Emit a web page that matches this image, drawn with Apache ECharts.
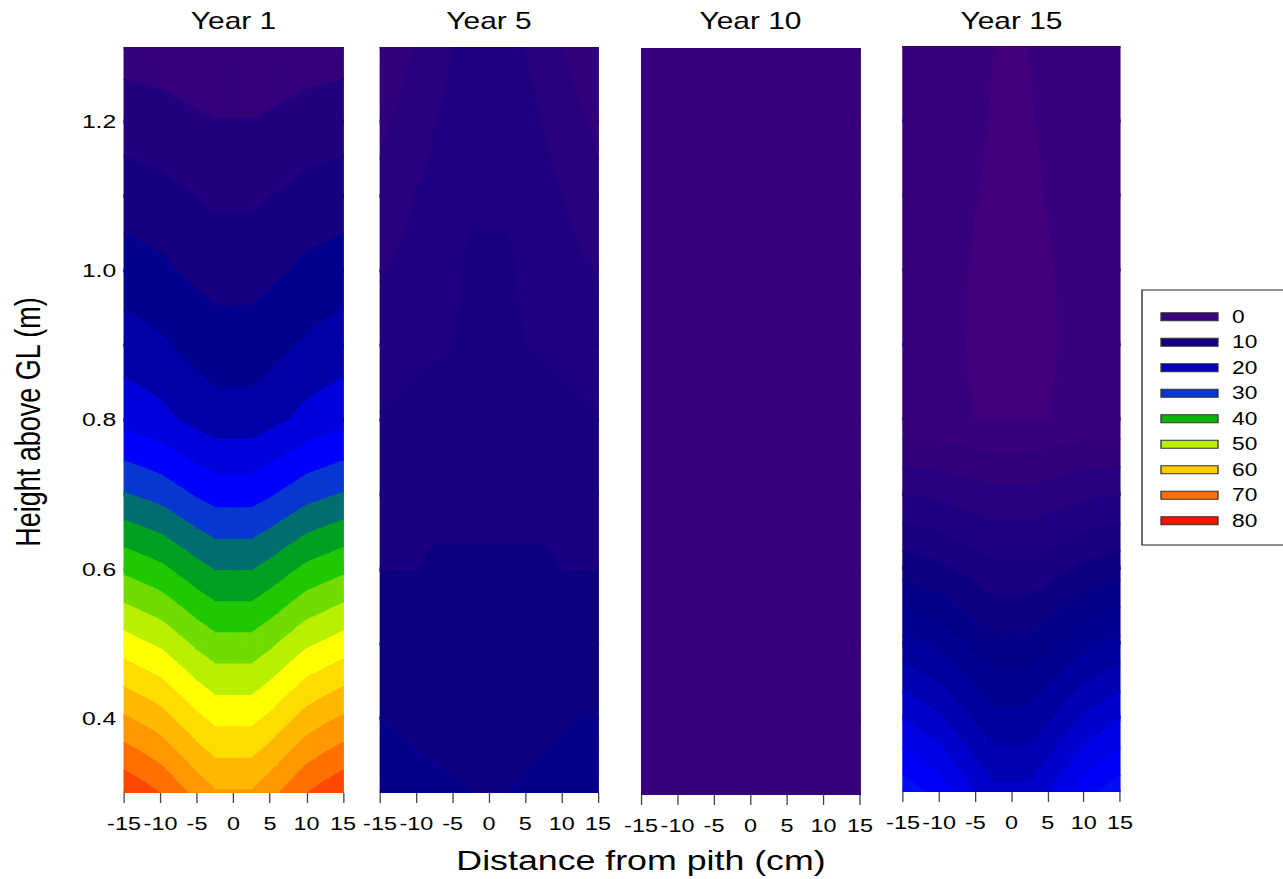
<!DOCTYPE html>
<html>
<head>
<meta charset="utf-8">
<script src="https://cdn.jsdelivr.net/npm/echarts@6/dist/echarts.min.js"></script>
<style>
  html, body { margin: 0; background: #fff; overflow: hidden; }
  /* the original figure is stretched sideways, so the whole chart is drawn narrow and widened */
  #chart { width: 987px; height: 879px; transform: scaleX(1.3); transform-origin: 0 0; }
</style>
</head>
<body>
<div id="chart"></div>
<script>
const SX = 1.3;

// grid of the measurements
const xs = [-15, -12.5, -10, -7.5, -5, -2.5, 0, 2.5, 5, 7.5, 10, 12.5, 15];
const heights = [1.3, 1.2, 1.1, 1.0, 0.9, 0.8, 0.7, 0.6, 0.5, 0.4, 0.3];

// values, one row per height (top to bottom), one column per distance
const year1 = [
  [2.3, 2.1, 1.9, 1.6, 1.3, 1.0, 1.0, 1.0, 1.3, 1.6, 1.9, 2.1, 2.3],
  [6.2, 5.9, 5.6, 5.0, 4.5, 4.1, 4.1, 4.1, 4.5, 5.0, 5.6, 5.9, 6.2],
  [10.1, 9.7, 9.3, 8.6, 7.9, 7.3, 7.3, 7.3, 7.9, 8.6, 9.3, 9.7, 10.1],
  [13.9, 13.4, 12.9, 11.9, 11.2, 10.5, 10.5, 10.5, 11.2, 11.9, 12.9, 13.4, 13.9],
  [17.9, 17.3, 16.6, 15.6, 14.5, 13.7, 13.7, 13.7, 14.5, 15.6, 16.6, 17.3, 17.9],
  [22.7, 22.0, 21.2, 19.9, 18.8, 17.8, 17.8, 17.8, 18.8, 19.9, 21.2, 22.0, 22.7],
  [32.3, 31.4, 30.5, 29.0, 27.5, 26.3, 26.3, 26.3, 27.5, 29.0, 30.5, 31.4, 32.3],
  [43.1, 42.0, 40.9, 39.1, 37.3, 35.8, 35.8, 35.8, 37.3, 39.1, 40.9, 42.0, 43.1],
  [53.8, 52.5, 51.3, 49.2, 47.1, 45.4, 45.4, 45.4, 47.1, 49.2, 51.3, 52.5, 53.8],
  [64.5, 63.1, 61.6, 59.2, 56.8, 54.9, 54.9, 54.9, 56.8, 59.2, 61.6, 63.1, 64.5],
  [75.3, 73.7, 71.9, 69.3, 66.6, 64.4, 64.4, 64.4, 66.6, 69.3, 71.9, 73.7, 75.3]
];
const year5 = [
  [2.5, 3.2, 4.05, 5.0, 5.95, 7.0, 7.5, 7.0, 5.95, 5.0, 4.05, 3.2, 2.5],
  [3.6, 4.2, 5.0, 5.9, 6.6, 7.4, 7.7, 7.4, 6.6, 5.9, 5.0, 4.2, 3.6],
  [4.4, 5.3, 6.05, 6.5, 7.1, 7.6, 7.6, 7.6, 7.1, 6.5, 6.05, 5.3, 4.4],
  [5.8, 6.3, 6.6, 7.0, 7.5, 8.4, 8.4, 8.4, 7.5, 7.0, 6.6, 6.3, 5.8],
  [7.2, 7.36, 7.57, 7.78, 7.98, 8.5, 8.6, 8.5, 7.98, 7.78, 7.57, 7.36, 7.2],
  [8.1, 8.3, 8.5, 8.7, 8.9, 9.0, 9.0, 9.0, 8.9, 8.7, 8.5, 8.3, 8.1],
  [9.2, 9.2, 9.2, 9.4, 9.4, 9.4, 9.4, 9.4, 9.4, 9.4, 9.2, 9.2, 9.2],
  [9.98, 9.98, 9.98, 10.3, 10.3, 10.3, 10.3, 10.3, 10.3, 10.3, 9.98, 9.98, 9.98],
  [11.0, 10.9, 10.8, 10.8, 10.7, 10.6, 10.6, 10.6, 10.7, 10.8, 10.8, 10.9, 11.0],
  [12.02, 11.7, 11.4, 11.1, 10.8, 10.5, 10.4, 10.5, 11.1, 11.4, 11.7, 12.02, 12.02],
  [13.5, 13.2, 12.9, 12.6, 12.3, 12.05, 11.8, 12.05, 12.3, 12.6, 12.9, 13.2, 13.2]
];
const year10 = [
  [1, 1, 1, 1, 1, 1, 1, 1, 1, 1, 1, 1, 1],
  [1, 1, 1, 1, 1, 1, 1, 1, 1, 1, 1, 1, 1],
  [1, 1, 1, 1, 1, 1, 1, 1, 1, 1, 1, 1, 1],
  [1, 1, 1, 1, 1, 1, 1, 1, 1, 1, 1, 1, 1],
  [1, 1, 1, 1, 1, 1, 1, 1, 1, 1, 1, 1, 1],
  [1, 1, 1, 1, 1, 1, 1, 1, 1, 1, 1, 1, 1],
  [1, 1, 1, 1, 1, 1, 1, 1, 1, 1, 1, 1, 1],
  [1, 1, 1, 1, 1, 1, 1, 1, 1, 1, 1, 1, 1],
  [1, 1, 1, 1, 1, 1, 1, 1, 1, 1, 1, 1, 1],
  [1, 1, 1, 1, 1, 1, 1, 1, 1, 1, 1, 1, 1],
  [1, 1, 1, 1, 1, 1, 1, 1, 1, 1, 1, 1, 1]
];
const year15 = [
  [1.0, 1.0, 1.0, 0.9, 0.6, 0.03, -0.5, 0.03, 0.6, 0.9, 1.0, 1.0, 1.0],
  [1.0, 1.0, 1.0, 0.8, 0.4, -0.2, -0.6, -0.2, 0.4, 0.8, 1.0, 1.0, 1.0],
  [1.0, 1.0, 0.95, 0.6, 0.1, -0.5, -0.7, -0.5, 0.1, 0.6, 0.95, 1.0, 1.0],
  [1.0, 1.0, 0.9, 0.4, -0.3, -0.7, -0.8, -0.7, -0.3, 0.4, 0.9, 1.0, 1.0],
  [1.0, 1.0, 0.8, 0.3, -0.4, -0.7, -0.8, -0.7, -0.4, 0.3, 0.8, 1.0, 1.0],
  [0.56, 0.55, 0.5, 0.4, -0.05, -0.05, -0.05, -0.05, -0.05, 0.4, 0.5, 0.55, 0.56],
  [5.9, 5.7, 5.5, 5.1, 4.8, 4.5, 4.5, 4.5, 4.8, 5.1, 5.5, 5.7, 5.9],
  [11.2, 10.8, 10.4, 9.7, 9.0, 8.5, 8.5, 8.5, 9.0, 9.7, 10.4, 10.8, 11.2],
  [16.5, 15.9, 15.3, 14.3, 13.3, 12.5, 12.5, 12.5, 13.3, 14.3, 15.3, 15.9, 16.5],
  [21.8, 21.0, 20.2, 18.9, 17.6, 16.5, 16.5, 16.5, 17.6, 18.9, 20.2, 21.0, 21.8],
  [27.2, 26.2, 25.2, 23.5, 21.8, 20.5, 20.5, 20.5, 21.8, 23.5, 25.2, 26.2, 27.2]
];

// contour levels of each panel
const levels1 = [0, 4, 8, 12, 16, 20, 24, 28, 32, 36, 40, 44, 48, 52, 56, 60, 64, 68, 72, 76, 80];
const levels5 = [0, 2, 4, 6, 8, 10, 12, 14];
const levels10 = [0, 2];
const levels15 = [-2, 0, 2, 4, 6, 8, 10, 12, 14, 16, 18, 20, 22, 24, 26, 28];

const titles = ['Year 1', 'Year 5', 'Year 10', 'Year 15'];
const yTickValues = [0.4, 0.6, 0.8, 1.0, 1.2];
const legendValues = [0, 10, 20, 30, 40, 50, 60, 70, 80];

// colour scale shared by all panels
const colorStops = [
  [-2, '#48007a'], [0, '#3c0080'], [2, '#35007b'], [6, '#230080'], [10, '#170080'],
  [11, '#0c0080'], [13, '#04008a'], [16, '#000096'], [18, '#0000a8'], [20, '#0000c0'],
  [22, '#0000dc'], [26, '#0000ff'], [30, '#0838d0'], [34, '#006e70'], [38, '#00a020'],
  [42, '#20c800'], [46, '#70dc00'], [50, '#b8f000'], [54, '#ffff00'], [58, '#ffdc00'],
  [62, '#ffb800'], [66, '#ff9800'], [70, '#ff7000'], [74, '#ff4800'], [78, '#ff2000'],
  [82, '#ff0000']
];

const panels = [
  { left: 124, right: 343, top: 47, bottom: 793, data: year1, levels: levels1 },
  { left: 380, right: 598, top: 47, bottom: 793, data: year5, levels: levels5 },
  { left: 641, right: 860, top: 48, bottom: 795, data: year10, levels: levels10 },
  { left: 903, right: 1120, top: 46, bottom: 792, data: year15, levels: levels15 }
];

const FONT = '"Liberation Sans", Arial, sans-serif';

function hex(c) {
  return [parseInt(c.slice(1, 3), 16), parseInt(c.slice(3, 5), 16), parseInt(c.slice(5, 7), 16)];
}

function colorAt(v) {
  if (v <= colorStops[0][0]) return colorStops[0][1];
  for (let k = 1; k < colorStops.length; k++) {
    const [v1, c1] = colorStops[k];
    if (v <= v1) {
      const [v0, c0] = colorStops[k - 1];
      const t = (v - v0) / (v1 - v0);
      const a = hex(c0), b = hex(c1);
      const m = a.map((x, n) => Math.round(x + t * (b[n] - x)));
      return 'rgb(' + m.join(',') + ')';
    }
  }
  return colorStops[colorStops.length - 1][1];
}

// keep the part of a polygon where sign*(value - lv) >= 0
function clip(poly, lv, sign) {
  const out = [];
  for (let n = 0; n < poly.length; n++) {
    const a = poly[n], b = poly[(n + 1) % poly.length];
    const da = sign * (a[2] - lv), db = sign * (b[2] - lv);
    if (da >= 0) out.push(a);
    if (da * db < 0) {
      const t = da / (da - db);
      out.push([a[0] + t * (b[0] - a[0]), a[1] + t * (b[1] - a[1]), lv]);
    }
  }
  return out;
}

function contourItem(grid, levels) {
  return function (params, api) {
    const i = api.value(2), j = api.value(3);
    const c = [
      [xs[i], heights[j], grid[j][i]],
      [xs[i + 1], heights[j], grid[j][i + 1]],
      [xs[i + 1], heights[j + 1], grid[j + 1][i + 1]],
      [xs[i], heights[j + 1], grid[j + 1][i]]
    ];
    const mid = [
      (xs[i] + xs[i + 1]) / 2,
      (heights[j] + heights[j + 1]) / 2,
      (c[0][2] + c[1][2] + c[2][2] + c[3][2]) / 4
    ];
    const children = [];
    for (let t = 0; t < 4; t++) {
      const tri = [c[t], c[(t + 1) % 4], mid];
      for (let k = 0; k < levels.length - 1; k++) {
        const poly = clip(clip(tri, levels[k], 1), levels[k + 1], -1);
        if (poly.length < 3) continue;
        const col = colorAt((levels[k] + levels[k + 1]) / 2);
        children.push({
          type: 'polygon',
          silent: true,
          shape: { points: poly.map(p => api.coord([p[0], p[1]])) },
          style: { fill: col, stroke: col, lineWidth: 1.4, lineJoin: 'round' }
        });
      }
    }
    return { type: 'group', children };
  };
}

const cells = [];
for (let j = 0; j < heights.length - 1; j++) {
  for (let i = 0; i < xs.length - 1; i++) {
    cells.push([(xs[i] + xs[i + 1]) / 2, (heights[j] + heights[j + 1]) / 2, i, j]);
  }
}

const grids = [], xAxes = [], yAxes = [], series = [], graphics = [];

panels.forEach((p, n) => {
  grids.push({
    left: p.left / SX, width: (p.right - p.left) / SX,
    top: p.top, height: p.bottom - p.top
  });
  xAxes.push({
    gridIndex: n, type: 'value', min: -15, max: 15, interval: 5,
    axisLine: { show: false },
    axisTick: { show: true, length: 10, lineStyle: { color: '#444', width: 1 } },
    axisLabel: { fontSize: 18, color: '#000', fontFamily: FONT, margin: 22 },
    splitLine: { show: false }
  });
  yAxes.push({
    gridIndex: n, type: 'value', min: 0.3, max: 1.3,
    axisLine: { show: false },
    axisTick: { show: true, length: n === 0 ? 5.5 : 2.5, customValues: yTickValues,
      lineStyle: { color: '#444', width: 1 } },
    axisLabel: { show: n === 0, customValues: yTickValues, formatter: v => v.toFixed(1),
      fontSize: 19, color: '#000', fontFamily: FONT, margin: 6 },
    splitLine: { show: false }
  });
  series.push({
    type: 'custom', xAxisIndex: n, yAxisIndex: n,
    renderItem: contourItem(p.data, p.levels),
    data: cells, silent: true, animation: false, clip: true
  });
  graphics.push({
    type: 'text', x: (p.left + p.right) / 2 / SX, y: 21,
    style: { text: titles[n], fill: '#000', font: '23px ' + FONT, align: 'center', verticalAlign: 'middle' }
  });
});

// axis names
graphics.push({
  type: 'text', x: 641 / SX, y: 861,
  style: { text: 'Distance from pith (cm)', fill: '#000', font: '27.5px ' + FONT,
    align: 'center', verticalAlign: 'middle' }
});
graphics.push({
  type: 'text', x: 28 / SX, y: 422, rotation: Math.PI / 2,
  style: { text: 'Height above GL (m)', fill: '#000', font: '27px ' + FONT,
    align: 'center', verticalAlign: 'middle' }
});

// legend box
graphics.push({
  type: 'rect', shape: { x: 1142 / SX, y: 290, width: 160 / SX, height: 255 },
  style: { fill: '#fff', stroke: '#222', lineWidth: 1 }
});
legendValues.forEach((v, n) => {
  const cy = 316.7 + n * 25.5;
  graphics.push({
    type: 'rect', shape: { x: 1161 / SX, y: cy - 4, width: 57 / SX, height: 8 },
    style: { fill: colorAt(v), stroke: '#333', lineWidth: 1 }
  });
  graphics.push({
    type: 'text', x: 1232 / SX, y: cy,
    style: { text: String(v), fill: '#000', font: '17.5px ' + FONT, align: 'left', verticalAlign: 'middle' }
  });
});

const chart = echarts.init(document.getElementById('chart'), null, { renderer: 'svg' });
chart.setOption({
  animation: false,
  backgroundColor: '#fff',
  textStyle: { fontFamily: FONT },
  grid: grids,
  xAxis: xAxes,
  yAxis: yAxes,
  series: series,
  graphic: graphics
});
</script>
</body>
</html>
